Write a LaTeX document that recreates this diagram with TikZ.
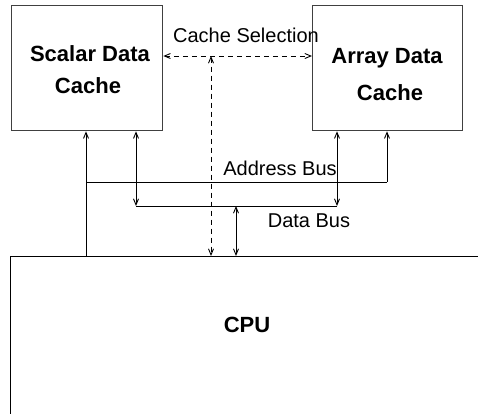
\documentclass[tikz,border=0pt]{standalone}
\usepackage{fontspec}
\setmainfont{Liberation Sans}
\usetikzlibrary{arrows.meta}
\begin{document}
\begin{tikzpicture}[x=1pt,y=-1pt,
  box/.style={draw=black!75, line width=1.3pt, inner sep=0pt},
  lbl/.style={font=\fontsize{22}{26}\selectfont\bfseries, inner sep=0pt, anchor=base},
  buslbl/.style={font=\fontsize{20}{24}\selectfont, inner sep=0pt, anchor=base},
  wire/.style={line width=0.9pt},
  dash line/.style={line width=0.9pt, dash pattern=on 5pt off 4pt},
  tip/.style={-{Straight Barb[length=6pt,width=5pt]}},
  dtip/.style={{Straight Barb[length=6pt,width=5pt]}-{Straight Barb[length=6pt,width=5pt]}}]
\useasboundingbox (0,0) rectangle (478,413);
\clip (0,0) rectangle (478,413);
\node[box, minimum width=151pt, minimum height=125pt, anchor=north west] (sdc) at (11,5) {};
\node[box, minimum width=150pt, minimum height=125pt, anchor=north west] (adc) at (312,5) {};
\node[draw=black, line width=1pt, minimum width=520pt, minimum height=220pt, anchor=north west] (cpu) at (10,256) {};
\node[lbl] (sdc1) at (90,61.5) {Scalar Data};
\node[lbl] (sdc2) at (88,93) {Cache};
\node[lbl] (adc1) at (387,63) {Array Data};
\node[lbl] (adc2) at (390,100) {Cache};
\node[lbl] (cpul) at (247,332) {CPU};
\node[buslbl] (csl) at (246,42) {Cache Selection};
\node[buslbl] (abl) at (280,175) {Address Bus};
\node[buslbl] (dbl) at (309,227) {Data Bus};
\coordinate (ab1) at (86,182);
\coordinate (ab2) at (387,182);
\coordinate (db1) at (136,206);
\coordinate (db2) at (337,206);
\coordinate (db3) at (236,206);
\coordinate (cs) at (211,56);
\draw[wire] (cpu.north -| ab1) -- (ab1) -- (ab2);
\draw[wire,tip] (ab1) -- (sdc.south -| ab1);
\draw[wire,tip] (ab2) -- (adc.south -| ab2);
\draw[wire] (db1) -- (db2);
\draw[wire,dtip] (db1) -- (sdc.south -| db1);
\draw[wire,dtip] (db2) -- (adc.south -| db2);
\draw[wire,dtip] (db3) -- (cpu.north -| db3);
\draw[dash line,dtip] (sdc.east |- cs) -- (adc.west |- cs);
\draw[dash line,dtip] (cs) -- (cpu.north -| cs);
\end{tikzpicture}
\end{document}
